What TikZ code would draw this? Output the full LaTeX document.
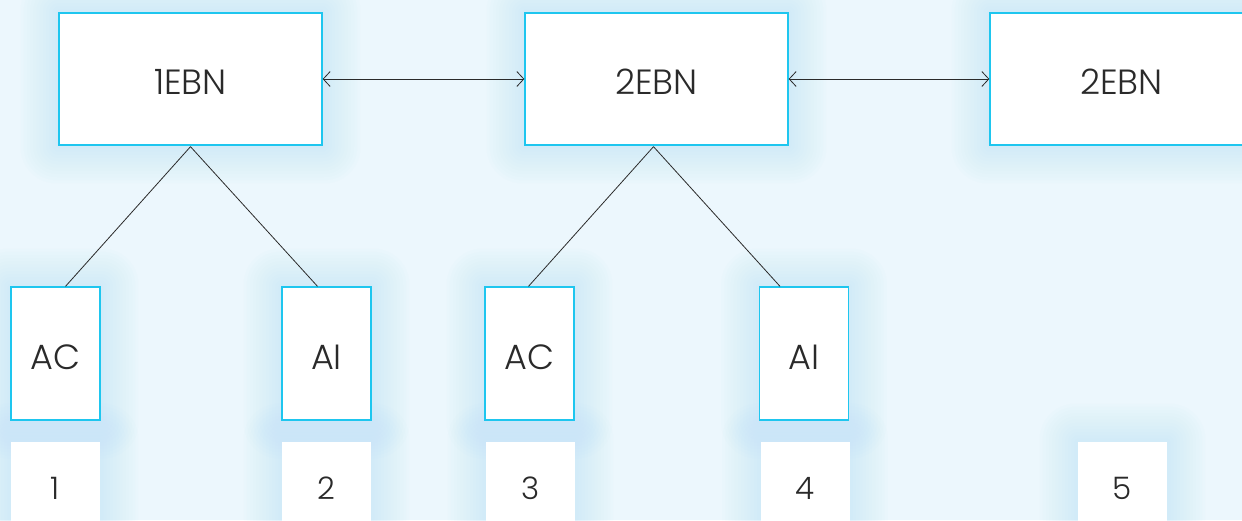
\documentclass[tikz,border=0pt]{standalone}
\usepackage{fontspec}
\setmainfont{Poppins}[UprightFont={* Light}]
\usetikzlibrary{arrows.meta,calc}
\definecolor{bg}{HTML}{ECF7FD}
\definecolor{glow}{HTML}{BFE6F8}
\definecolor{edge}{HTML}{1EC6EF}
\definecolor{ink}{HTML}{2A2A2A}
\tikzset{
  box/.style={draw=edge, line width=1.3pt, fill=white, inner sep=0pt, text=ink, font=\fontsize{35}{35}\selectfont, text height=31pt, text depth=0pt},
  topbox/.style={box, minimum width=263pt, minimum height=132pt},
  leafbox/.style={box, minimum width=89pt, minimum height=133pt},
  numbox/.style={fill=white, inner sep=0pt, text=ink, minimum width=89pt, minimum height=92pt, font=\fontsize{31}{31}\selectfont},
  link/.style={draw=ink, line width=0.8pt},
  biarrow/.style={link, {Straight Barb[length=7pt,width=15pt]}-{Straight Barb[length=7pt,width=15pt]}},
}
\newcommand{\glowat}[3]{% center, half width, half height
  \foreach \k in {1,...,12}{
    \fill[glow, opacity=0.05, rounded corners=\k*3pt]
      ($(#1)+(-#2-\k*3.2,-#3-\k*3.2)$) rectangle ($(#1)+(#2+\k*3.2,#3+\k*3.2)$);
  }}
\begin{document}
\begin{tikzpicture}[x=1pt,y=-1pt]
\useasboundingbox (0,0) rectangle (1242,520);
\clip (0,0) rectangle (1242,520);
\fill[bg] (0,0) rectangle (1242,520);
% glows
\glowat{190.5,79}{131.5}{66}
\glowat{656.5,79}{131.5}{66}
\glowat{1121.5,79}{131.5}{66}
\glowat{55.5,353.5}{44.5}{66.5}
\glowat{326.5,353.5}{44.5}{66.5}
\glowat{529.5,353.5}{44.5}{66.5}
\glowat{804,353.5}{44.5}{66.5}
\glowat{55.5,488}{44.5}{46}
\glowat{326.5,488}{44.5}{46}
\glowat{530.5,488}{44.5}{46}
\glowat{805,488}{44.5}{46}
\glowat{1122.5,488}{44.5}{46}
% top boxes
\node[topbox] (t1) at (190.5,79) {1EBN};
\node[topbox] (t2) at (656.5,79) {2EBN};
\node[topbox] (t3) at (1121.5,79) {2EBN};
% leaves
\node[leafbox] (ac1) at (55.5,353.5) {AC};
\node[leafbox] (ai1) at (326.5,353.5) {AI};
\node[leafbox] (ac2) at (529.5,353.5) {AC};
\node[leafbox] (ai2) at (804,353.5) {AI};
% numbers
\node[numbox] (n1) at (55.5,488) {1};
\node[numbox] (n2) at (326.5,488) {2};
\node[numbox] (n3) at (530.5,488) {3};
\node[numbox] (n4) at (805,488) {4};
\node[numbox] (n5) at (1122.5,488) {5};
% connectors
\draw[biarrow] (t1.east) -- (t2.west);
\draw[biarrow] (t2.east) -- (t3.west);
\draw[link] ([yshift=-1pt]t1.south) -- ([xshift=10pt]ac1.north);
\draw[link] ([yshift=-1pt]t1.south) -- ([xshift=-9pt]ai1.north);
\draw[link] ([xshift=-3pt,yshift=-1pt]t2.south) -- ([xshift=-1pt]ac2.north);
\draw[link] ([xshift=-3pt,yshift=-1pt]t2.south) -- ([xshift=-24pt]ai2.north);
\end{tikzpicture}
\end{document}
